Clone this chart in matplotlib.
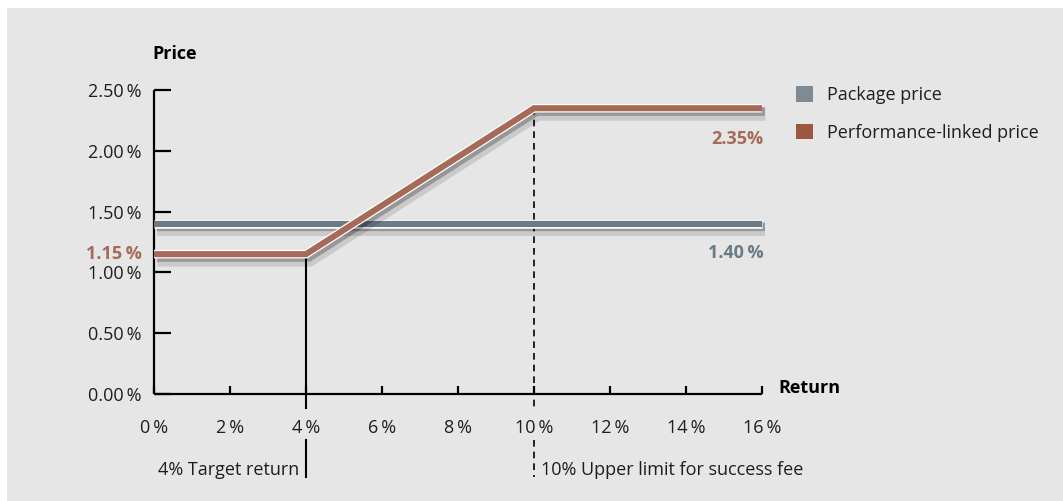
import matplotlib
matplotlib.use("Agg")
import matplotlib.pyplot as plt
import matplotlib.patheffects as pe
from matplotlib.patches import Patch, Rectangle

plt.rcParams['font.family'] = ['Open Sans', 'DejaVu Sans']

# data
returns = [0, 4, 10, 16]
perf_price = [1.15, 1.15, 2.35, 2.35]
package_x = [0, 16]
package_price = [1.40, 1.40]
target_return = 4
upper_limit = 10

x_ticks = [0, 2, 4, 6, 8, 10, 12, 14, 16]
y_ticks = [0.0, 0.5, 1.0, 1.5, 2.0, 2.5]
x_labels = ['%d\u2009%%' % v for v in x_ticks]
y_labels = ['%.2f\u2009%%' % v for v in y_ticks]

c_pack = '#687b86'
c_perf = '#a66a58'
c_pack_leg = '#7d8b95'
c_perf_leg = '#9c5741'
c_text = '#1e1e1e'
bg = '#e6e6e6'

W, H = 1063, 501
fig = plt.figure(figsize=(W / 100, H / 100), dpi=100, facecolor='white')
fig.patches.append(Rectangle((7 / W, 0), 1 - 7 / W, 1 - 8 / H, transform=fig.transFigure,
                             facecolor=bg, edgecolor='none', zorder=-10))

ax = fig.add_axes([154 / W, (H - 394) / H, (762 - 154) / W, (394 - 90) / H])
ax.set_facecolor('none')
ax.set_xlim(0, 16)
ax.set_ylim(0, 2.5)

for s in ['top', 'right']:
    ax.spines[s].set_visible(False)
for s in ['left', 'bottom']:
    ax.spines[s].set_linewidth(1.6)
    ax.spines[s].set_color('black')
    ax.spines[s].set_capstyle('butt')

ax.set_xticks(x_ticks)
ax.set_xticklabels(x_labels)
ax.set_yticks(y_ticks)
ax.set_yticklabels(y_labels)
ax.tick_params(axis='x', direction='in', length=6, width=1.6, pad=18, labelsize=13, labelcolor=c_text)
ax.tick_params(axis='y', direction='in', length=12, width=1.6, pad=9, labelsize=13, labelcolor=c_text)

line_fx = [pe.SimpleLineShadow(offset=(2.5, -4), shadow_color='black', alpha=0.12, linewidth=10),
           pe.SimpleLineShadow(offset=(2, -2.5), shadow_color='black', alpha=0.25, linewidth=6),
           pe.Stroke(linewidth=6.2, foreground='white'),
           pe.Normal()]

ax.plot(package_x, package_price, color=c_pack, lw=4.4, solid_capstyle='butt',
        path_effects=line_fx, clip_on=False, zorder=4)
ax.plot(returns, perf_price, color=c_perf, lw=4.4, solid_capstyle='butt', solid_joinstyle='miter',
        path_effects=line_fx, clip_on=False, zorder=5)

# reference lines (x in data, y in axes fraction)
xt = ax.get_xaxis_transform()
ymax = ax.get_ylim()[1]
ax.plot([target_return, target_return], [perf_price[1] / ymax, -14 / 304], color='black', lw=1.5,
        transform=xt, clip_on=False, zorder=3)
ax.plot([target_return, target_return], [-46 / 304, -83 / 304], color='black', lw=1.5,
        transform=xt, clip_on=False, zorder=3)
ax.plot([upper_limit, upper_limit], [perf_price[2] / ymax, -14 / 304], color='black', lw=1.2,
        dashes=(4, 3), transform=xt, clip_on=False, zorder=3)
ax.plot([upper_limit, upper_limit], [-46 / 304, -83 / 304], color='black', lw=1.2,
        dashes=(4, 3), transform=xt, clip_on=False, zorder=3)

ax.annotate('4% Target return', xy=(target_return, -76 / 304), xycoords=xt, xytext=(-5, 0),
            textcoords='offset points', ha='right', va='center', fontsize=13, color=c_text,
            annotation_clip=False)
ax.annotate('10% Upper limit for success fee', xy=(upper_limit, -76 / 304), xycoords=xt, xytext=(5, 0),
            textcoords='offset points', ha='left', va='center', fontsize=13, color=c_text,
            annotation_clip=False)

# value labels
ax.annotate('%.2f\u2009%%' % perf_price[0], xy=(0, perf_price[0]), xytext=(-9, 0), textcoords='offset points',
            ha='right', va='center', fontsize=13, fontweight='bold', color=c_perf, annotation_clip=False)
ax.annotate('%.2f%%' % perf_price[-1], xy=(returns[-1], perf_price[-1]), xytext=(1, -22),
            textcoords='offset points', ha='right', va='center', fontsize=13, fontweight='bold',
            color=c_perf, annotation_clip=False)
ax.annotate('%.2f\u2009%%' % package_price[-1], xy=(package_x[-1], package_price[-1]), xytext=(1, -21),
            textcoords='offset points', ha='right', va='center', fontsize=13, fontweight='bold',
            color=c_pack, annotation_clip=False)

# axis titles
fig.text(152 / W, 1 - 54 / H, 'Price', ha='left', va='center', fontsize=13, fontweight='bold', color='black')
fig.text(778 / W, 1 - 388 / H, 'Return', ha='left', va='center', fontsize=13, fontweight='bold', color='black')

handles = [Patch(facecolor=c_pack_leg, edgecolor='none', label='Package price'),
           Patch(facecolor=c_perf_leg, edgecolor='none', label='Performance-linked price')]
leg = fig.legend(handles=handles, loc='upper left', bbox_to_anchor=(796 / W, 1 - 86 / H), frameon=False,
                 fontsize=13, handlelength=0.95, handleheight=0.95, handletextpad=0.75,
                 labelspacing=1.1, borderpad=0, borderaxespad=0)
for t in leg.get_texts():
    t.set_color(c_text)

fig.savefig('out.png', dpi=100, facecolor='white')
